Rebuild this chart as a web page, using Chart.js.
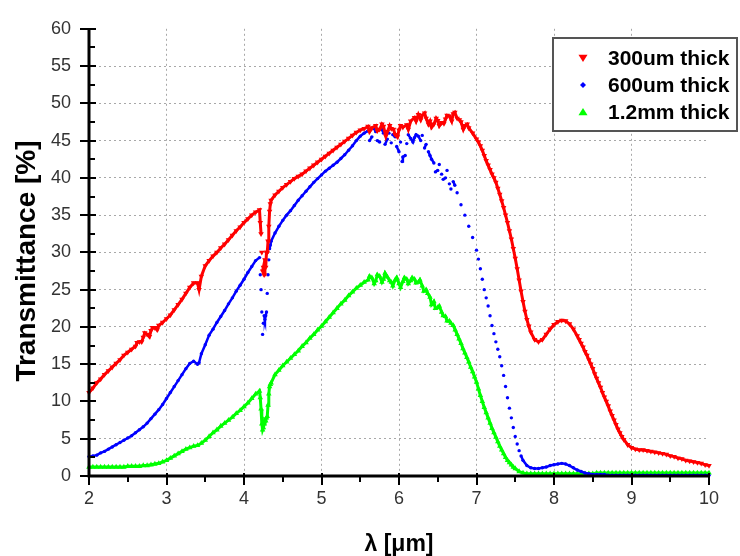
<!DOCTYPE html>
<html><head><meta charset="utf-8">
<script src="https://cdn.jsdelivr.net/npm/chart.js@4.4.1/dist/chart.umd.min.js"></script>
<style>html,body{margin:0;padding:0;background:#fff}#wrap{width:740px;height:556px;position:relative}</style>
</head><body><div id="wrap"><canvas id="c"></canvas></div>
<script>
const seriesLabels = ['300um thick', '600um thick', '1.2mm thick'];
const seriesColors = ['#ff0000', '#0000ff', '#00ff00'];
const xTitle = 'λ [μm]';
const yTitle = 'Transmittance [%]';
const xTicks = [2, 3, 4, 5, 6, 7, 8, 9, 10];
const xMinorTicks = [2.5, 3.5, 4.5, 5.5, 6.5, 7.5, 8.5, 9.5];
const yTicks = [0, 5, 10, 15, 20, 25, 30, 35, 40, 45, 50, 55, 60];
const yMinorTicks = [2.5, 7.5, 12.5, 17.5, 22.5, 27.5, 32.5, 37.5, 42.5, 47.5, 52.5, 57.5];

// [wavelength (um), transmittance (%)]
const red300 = [
[2.00,11.2],[2.05,11.8],[2.10,12.5],[2.15,13.0],[2.20,13.6],[2.25,14.1],[2.30,14.6],[2.35,15.1],[2.40,15.6],[2.45,16.2],
[2.50,16.6],[2.55,17.0],[2.60,17.4],[2.62,17.9],[2.65,18.0],[2.68,18.0],[2.70,18.6],[2.72,19.2],[2.75,19.0],[2.78,18.7],
[2.80,19.5],[2.82,19.9],[2.85,19.9],[2.88,19.6],[2.90,20.2],[2.95,20.6],[3.00,21.1],[3.05,21.6],[3.10,22.3],[3.15,23.0],
[3.20,23.7],[3.25,24.5],[3.30,25.3],[3.35,25.9],[3.40,25.9],[3.42,25.0],[3.45,26.8],[3.50,28.2],[3.55,28.9],[3.60,29.5],
[3.65,30.0],[3.70,30.6],[3.75,31.1],[3.80,31.7],[3.85,32.3],[3.90,32.9],[3.95,33.4],[4.00,34.0],[4.05,34.5],[4.10,35.0],
[4.15,35.4],[4.20,35.7],[4.21,34.0],[4.22,32.5],[4.23,30.0],[4.24,27.5],[4.25,28.0],[4.26,27.0],[4.27,29.0],[4.28,28.0],
[4.29,30.0],[4.30,30.0],[4.31,31.5],[4.32,33.5],[4.33,35.5],[4.34,36.5],[4.35,37.0],[4.40,37.7],[4.45,38.2],[4.50,38.7],
[4.55,39.1],[4.60,39.5],[4.65,39.9],[4.70,40.2],[4.75,40.5],[4.80,40.9],[4.85,41.3],[4.90,41.7],[4.95,42.1],[5.00,42.5],
[5.05,42.9],[5.10,43.3],[5.15,43.7],[5.20,44.1],[5.25,44.5],[5.30,44.9],[5.35,45.3],[5.40,45.7],[5.45,46.1],[5.50,46.4],
[5.55,46.6],[5.60,46.9],[5.62,46.2],[5.65,46.7],[5.70,47.0],[5.72,46.3],[5.75,46.5],[5.78,47.2],[5.80,46.9],[5.83,45.6],
[5.85,46.2],[5.88,47.0],[5.90,46.6],[5.93,46.5],[5.95,45.8],[5.98,45.5],[6.00,46.4],[6.02,47.0],[6.05,46.8],[6.10,47.1],
[6.12,46.5],[6.15,47.6],[6.20,48.1],[6.22,47.6],[6.25,48.5],[6.28,47.8],[6.30,48.4],[6.33,48.7],[6.35,48.0],[6.38,47.2],
[6.40,47.6],[6.42,46.8],[6.45,47.2],[6.48,48.0],[6.50,47.7],[6.52,47.0],[6.55,47.4],[6.58,47.3],[6.60,47.9],[6.62,48.4],
[6.65,48.3],[6.68,47.6],[6.70,48.6],[6.72,48.8],[6.75,48.0],[6.78,47.8],[6.80,47.5],[6.83,46.5],[6.85,47.0],[6.88,47.2],
[6.90,46.7],[6.95,46.0],[7.00,45.2],[7.025,44.8],[7.05,44.3],[7.075,43.7],[7.10,43.0],[7.125,42.3],[7.15,41.7],[7.175,41.1],
[7.20,40.5],[7.225,40.0],[7.25,39.4],[7.275,38.6],[7.30,37.8],[7.325,36.9],[7.35,36.0],[7.375,35.0],[7.40,34.0],[7.425,32.9],
[7.45,31.8],[7.475,30.5],[7.50,29.2],[7.525,27.8],[7.55,26.3],[7.575,24.8],[7.60,23.4],[7.625,22.1],[7.65,21.0],[7.675,20.1],
[7.70,19.3],[7.75,18.3],[7.80,18.0],[7.85,18.3],[7.90,19.0],[7.95,19.7],[8.00,20.3],[8.05,20.7],[8.10,20.9],[8.15,20.8],
[8.20,20.4],[8.25,19.7],[8.30,18.8],[8.325,18.3],[8.35,17.8],[8.375,17.3],[8.40,16.7],[8.425,16.2],[8.45,15.6],[8.475,15.0],
[8.50,14.4],[8.525,13.7],[8.55,13.1],[8.575,12.5],[8.60,11.9],[8.625,11.2],[8.65,10.6],[8.675,10.0],[8.70,9.4],[8.725,8.7],
[8.75,8.1],[8.775,7.5],[8.80,6.9],[8.825,6.3],[8.85,5.8],[8.875,5.3],[8.90,4.9],[8.95,4.2],[9.00,3.8],[9.05,3.6],
[9.10,3.5],[9.15,3.5],[9.20,3.4],[9.25,3.3],[9.30,3.2],[9.35,3.1],[9.40,3.0],[9.45,2.9],[9.50,2.7],[9.55,2.6],
[9.60,2.4],[9.65,2.3],[9.70,2.1],[9.75,2.0],[9.80,1.9],[9.85,1.8],[9.90,1.7],[9.95,1.5],[10.00,1.4]
];

const blue600 = [
[2.00,2.6],[2.05,2.7],[2.10,2.8],[2.15,3.1],[2.20,3.3],[2.25,3.6],[2.30,3.9],[2.35,4.2],[2.40,4.5],[2.45,4.8],
[2.50,5.1],[2.55,5.4],[2.60,5.8],[2.65,6.2],[2.70,6.6],[2.75,7.1],[2.80,7.7],[2.85,8.3],[2.90,8.9],[2.95,9.6],
[3.00,10.4],[3.05,11.2],[3.10,12.0],[3.15,12.8],[3.20,13.6],[3.25,14.4],[3.30,15.1],[3.35,15.4],[3.40,15.0],[3.42,15.2],
[3.45,16.4],[3.50,17.6],[3.55,18.9],[3.60,19.7],[3.65,20.6],[3.70,21.4],[3.75,22.2],[3.80,23.1],[3.85,23.9],[3.90,24.8],
[3.95,25.6],[4.00,26.4],[4.05,27.3],[4.10,28.1],[4.15,28.9],[4.20,29.3],[4.21,27.0],[4.22,25.0],[4.23,22.0],[4.24,19.0],
[4.25,20.5],[4.26,21.5],[4.27,21.0],[4.28,21.5],[4.29,22.0],[4.30,24.5],[4.31,27.0],[4.32,29.0],[4.33,30.5],[4.34,31.0],
[4.35,31.5],[4.40,32.6],[4.45,33.5],[4.50,34.3],[4.55,35.0],[4.60,35.6],[4.65,36.3],[4.70,37.0],[4.75,37.6],[4.80,38.2],
[4.85,38.8],[4.90,39.4],[4.95,39.9],[5.00,40.4],[5.05,40.9],[5.10,41.3],[5.15,41.7],[5.20,42.1],[5.25,42.6],[5.30,43.1],
[5.35,43.7],[5.40,44.3],[5.45,45.0],[5.50,45.6],[5.55,46.0],[5.60,46.3],[5.62,45.0],[5.65,45.5],[5.68,46.6],[5.70,46.2],
[5.72,45.0],[5.75,44.8],[5.78,46.5],[5.80,46.0],[5.82,44.5],[5.85,45.2],[5.87,46.0],[5.90,44.7],[5.92,45.8],[5.95,45.5],
[5.97,44.2],[6.00,43.5],[6.02,44.8],[6.04,42.2],[6.05,42.8],[6.08,43.0],[6.10,44.6],[6.12,45.8],[6.15,45.3],[6.18,44.8],
[6.20,45.4],[6.22,45.8],[6.25,45.6],[6.28,45.0],[6.30,45.7],[6.33,44.0],[6.35,44.5],[6.38,43.5],[6.40,43.0],[6.42,42.5],
[6.45,42.0],[6.47,40.8],[6.50,41.0],[6.52,41.8],[6.55,40.5],[6.57,39.8],[6.60,40.0],[6.62,41.0],[6.65,39.2],[6.67,38.5],
[6.70,39.5],[6.72,39.0],[6.75,38.0],[6.80,36.4],[6.85,35.0],[6.90,33.5],[6.95,32.0],[7.00,30.3],[7.025,29.1],[7.05,27.8],
[7.075,26.4],[7.10,25.0],[7.125,23.9],[7.15,22.8],[7.175,21.5],[7.20,20.2],[7.225,19.1],[7.25,18.0],[7.275,17.0],[7.30,16.0],
[7.325,14.8],[7.35,13.5],[7.375,12.0],[7.40,10.5],[7.425,9.1],[7.45,7.8],[7.475,6.5],[7.50,5.3],[7.525,4.3],[7.55,3.4],
[7.575,2.7],[7.60,2.1],[7.65,1.4],[7.70,1.1],[7.75,1.0],[7.80,1.0],[7.85,1.1],[7.90,1.2],[7.95,1.4],[8.00,1.5],
[8.05,1.6],[8.10,1.7],[8.15,1.6],[8.20,1.4],[8.25,1.1],[8.30,0.8],[8.35,0.6],[8.40,0.4],[8.45,0.3],[8.50,0.2],
[8.55,0.2],[8.60,0.2],[8.65,0.2],[8.70,0.1],[8.75,0.1],[8.80,0.1],[8.85,0.1],[8.90,0.1],[8.95,0.1],[9.00,0.1],
[9.05,0.1],[9.10,0.1],[9.15,0.1],[9.20,0.1],[9.25,0.1],[9.30,0.1],[9.35,0.1],[9.40,0.1],[9.45,0.1],[9.50,0.1],
[9.55,0.1],[9.60,0.1],[9.65,0.1],[9.70,0.1],[9.75,0.1],[9.80,0.1],[9.85,0.1],[9.90,0.1],[9.95,0.1],[10.00,0.1]
];

const green1200 = [
[2.00,1.2],[2.05,1.2],[2.10,1.2],[2.15,1.2],[2.20,1.2],[2.25,1.2],[2.30,1.2],[2.35,1.2],[2.40,1.2],[2.45,1.2],
[2.50,1.3],[2.55,1.3],[2.60,1.3],[2.65,1.3],[2.70,1.4],[2.75,1.4],[2.80,1.5],[2.85,1.6],[2.90,1.7],[2.95,1.9],
[3.00,2.1],[3.05,2.4],[3.10,2.7],[3.15,3.0],[3.20,3.3],[3.25,3.6],[3.30,3.8],[3.35,4.0],[3.40,4.1],[3.45,4.4],
[3.50,4.8],[3.55,5.3],[3.60,5.8],[3.65,6.2],[3.70,6.7],[3.75,7.1],[3.80,7.5],[3.85,7.9],[3.90,8.4],[3.95,8.8],
[4.00,9.3],[4.05,9.8],[4.10,10.4],[4.15,11.0],[4.20,11.4],[4.21,10.5],[4.22,9.0],[4.23,7.0],[4.24,6.2],[4.25,6.5],
[4.26,7.0],[4.27,7.5],[4.28,7.4],[4.29,7.8],[4.30,8.0],[4.31,9.5],[4.32,11.0],[4.33,12.0],[4.34,12.3],[4.35,12.5],
[4.40,13.6],[4.45,14.2],[4.50,14.8],[4.55,15.3],[4.60,15.8],[4.65,16.3],[4.70,16.8],[4.75,17.4],[4.80,17.9],[4.85,18.5],
[4.90,19.0],[4.95,19.6],[5.00,20.1],[5.05,20.7],[5.10,21.3],[5.15,21.9],[5.20,22.5],[5.25,23.1],[5.30,23.6],[5.35,24.2],
[5.40,24.7],[5.45,25.2],[5.50,25.6],[5.55,26.0],[5.60,26.3],[5.62,26.8],[5.65,26.6],[5.68,25.8],[5.70,26.2],[5.72,27.0],
[5.75,26.8],[5.78,26.0],[5.80,26.4],[5.82,27.2],[5.85,26.7],[5.88,26.2],[5.90,26.0],[5.92,25.5],[5.95,26.3],[5.97,26.6],
[6.00,25.8],[6.02,25.3],[6.05,26.1],[6.07,26.6],[6.10,26.4],[6.12,25.8],[6.15,26.2],[6.17,26.6],[6.20,26.4],[6.22,25.9],
[6.25,26.0],[6.27,26.3],[6.30,25.5],[6.32,24.8],[6.35,25.0],[6.37,24.5],[6.40,24.0],[6.42,23.0],[6.45,23.4],[6.47,22.5],
[6.50,22.6],[6.52,22.8],[6.55,22.0],[6.57,21.5],[6.60,21.4],[6.62,20.8],[6.65,20.8],[6.67,20.5],[6.70,20.2],[6.725,19.6],
[6.75,19.0],[6.775,18.4],[6.80,17.8],[6.825,17.1],[6.85,16.5],[6.875,15.9],[6.90,15.3],[6.925,14.6],[6.95,14.0],[6.975,13.3],
[7.00,12.6],[7.025,11.7],[7.05,10.8],[7.075,10.0],[7.10,9.2],[7.125,8.5],[7.15,7.8],[7.175,7.1],[7.20,6.4],[7.225,5.8],
[7.25,5.2],[7.275,4.6],[7.30,4.0],[7.325,3.5],[7.35,3.0],[7.375,2.5],[7.40,2.1],[7.425,1.8],[7.45,1.5],[7.475,1.2],
[7.50,1.0],[7.55,0.6],[7.60,0.4],[7.65,0.3],[7.70,0.3],[7.75,0.3],[7.80,0.3],[7.85,0.3],[7.90,0.3],[7.95,0.3],
[8.00,0.3],[8.05,0.3],[8.10,0.3],[8.15,0.3],[8.20,0.3],[8.25,0.3],[8.30,0.3],[8.35,0.3],[8.40,0.3],[8.45,0.3],
[8.50,0.3],[8.55,0.4],[8.60,0.4],[8.65,0.4],[8.70,0.4],[8.75,0.4],[8.80,0.4],[8.85,0.4],[8.90,0.4],[8.95,0.4],
[9.00,0.4],[9.05,0.4],[9.10,0.4],[9.15,0.4],[9.20,0.4],[9.25,0.4],[9.30,0.4],[9.35,0.4],[9.40,0.4],[9.45,0.4],
[9.50,0.4],[9.55,0.4],[9.60,0.4],[9.65,0.4],[9.70,0.4],[9.75,0.4],[9.80,0.4],[9.85,0.4],[9.90,0.4],[9.95,0.4],[10.00,0.4]
];

const toXY = arr => arr.map(p => ({x: p[0], y: p[1]}));

// hide the joining stroke where neighbouring samples jump (scattered regions)
function segColor(color, mode) {
  return c => {
    const dx = Math.abs(c.p1.x - c.p0.x), dy = Math.abs(c.p1.y - c.p0.y);
    let hide;
    if (mode === 'dots') hide = c.p0.parsed.x > 4.18 && dy > 5 && dy > 2.6 * dx;
    else hide = dy > 17;
    return hide ? 'rgba(0,0,0,0)' : color;
  };
}

function drawMarker(ctx, style, x, y, r, color) {
  ctx.fillStyle = color;
  ctx.beginPath();
  if (style === 'down') {
    ctx.moveTo(x - r, y - r * 0.7); ctx.lineTo(x + r, y - r * 0.7); ctx.lineTo(x, y + r * 0.9);
  } else if (style === 'up') {
    ctx.moveTo(x - r, y + r * 0.7); ctx.lineTo(x + r, y + r * 0.7); ctx.lineTo(x, y - r * 0.9);
  } else {
    ctx.moveTo(x, y - r); ctx.lineTo(x + r, y); ctx.lineTo(x, y + r); ctx.lineTo(x - r, y);
  }
  ctx.closePath();
  ctx.fill();
}

const axesPlugin = {
  id: 'axesDecor',
  afterDatasetsDraw(chart) {
    const {ctx, chartArea: a, scales: {x, y}} = chart;
    ctx.save();
    ctx.strokeStyle = '#000';
    ctx.lineWidth = 3;
    ctx.beginPath();
    ctx.moveTo(a.left, a.top); ctx.lineTo(a.left, a.bottom + 1.5);
    ctx.moveTo(a.left - 1.5, a.bottom); ctx.lineTo(a.right + 1, a.bottom);
    ctx.stroke();
    ctx.lineWidth = 2;
    ctx.beginPath();
    yTicks.forEach(v => { const py = Math.round(y.getPixelForValue(v)); ctx.moveTo(a.left - 9, py); ctx.lineTo(a.left + 7, py); });
    yMinorTicks.forEach(v => { const py = Math.round(y.getPixelForValue(v)); ctx.moveTo(a.left, py); ctx.lineTo(a.left + 6, py); });
    xTicks.forEach(v => { const px = Math.round(x.getPixelForValue(v)); ctx.moveTo(px, a.bottom - 3); ctx.lineTo(px, a.bottom + 9); });
    xMinorTicks.forEach(v => { const px = Math.round(x.getPixelForValue(v)); ctx.moveTo(px, a.bottom); ctx.lineTo(px, a.bottom + 6); });
    ctx.stroke();
    // y axis title, centred where the reference places it
    ctx.fillStyle = '#000';
    ctx.font = 'bold 28px "Liberation Sans", Arial, sans-serif';
    ctx.textAlign = 'center';
    ctx.textBaseline = 'middle';
    ctx.translate(27, 261);
    ctx.rotate(-Math.PI / 2);
    ctx.fillText(yTitle, 0, 0);
    ctx.restore();
  }
};

const legendPlugin = {
  id: 'boxLegend',
  afterDraw(chart) {
    const ctx = chart.ctx;
    const bx = 553, by = 38, bw = 184, bh = 93;
    ctx.save();
    ctx.fillStyle = '#fff';
    ctx.fillRect(bx, by, bw, bh);
    ctx.strokeStyle = '#555';
    ctx.lineWidth = 2;
    ctx.strokeRect(bx, by, bw, bh);
    const styles = ['down', 'diamond', 'up'];
    const rows = [58, 85, 112];
    chart.data.datasets.forEach((ds, i) => {
      drawMarker(ctx, styles[i], 583, rows[i], styles[i] === 'diamond' ? 3 : 4.5, ds.backgroundColor);
      ctx.fillStyle = '#000';
      ctx.font = 'bold 21px "Liberation Sans", Arial, sans-serif';
      ctx.textBaseline = 'middle';
      ctx.textAlign = 'left';
      ctx.fillText(ds.label, 608, rows[i] + 1);
    });
    ctx.restore();
  }
};

const gridColor = ctx => (ctx.tick && (ctx.tick.value === 0 || ctx.tick.value === 60 || ctx.tick.value === 2 || ctx.tick.value === 10)) ? 'rgba(0,0,0,0)' : '#a8a8a8';

new Chart(document.getElementById('c'), {
  type: 'scatter',
  data: {
    datasets: [
      {label: seriesLabels[0], data: toXY(red300), backgroundColor: seriesColors[0], borderColor: seriesColors[0],
       pointStyle: 'triangle', rotation: 180, pointRadius: 3.2, pointBorderWidth: 0, showLine: true, borderWidth: 3,
       segment: {borderColor: segColor(seriesColors[0], 'band')}, clip: false},
      {label: seriesLabels[1], data: toXY(blue600), backgroundColor: seriesColors[1], borderColor: seriesColors[1],
       pointStyle: 'circle', pointRadius: 1.7, pointBorderWidth: 0, showLine: true, borderWidth: 2.5,
       segment: {borderColor: segColor(seriesColors[1], 'dots')}, clip: false},
      {label: seriesLabels[2], data: toXY(green1200), backgroundColor: seriesColors[2], borderColor: seriesColors[2],
       pointStyle: 'triangle', pointRadius: 3.2, pointBorderWidth: 0, showLine: true, borderWidth: 3,
       segment: {borderColor: segColor(seriesColors[2], 'band')}, clip: false}
    ]
  },
  options: {
    responsive: true,
    maintainAspectRatio: false,
    animation: false,
    layout: {padding: {top: 20, right: 31, left: 0, bottom: 0}},
    plugins: {legend: {display: false}, tooltip: {enabled: false}},
    scales: {
      x: {
        type: 'linear', min: 2, max: 10,
        afterBuildTicks: s => { s.ticks = xTicks.map(v => ({value: v})); },
        afterFit: s => { s.height = 80; },
        grid: {color: gridColor, lineWidth: 1, drawTicks: false},
        border: {display: false, dash: [2, 3]},
        ticks: {padding: 12, color: '#333', font: {family: '"Liberation Sans", Arial, sans-serif', size: 18}, maxRotation: 0},
        title: {display: true, text: xTitle, color: '#000', padding: {top: 0, bottom: 0},
                font: {family: '"Liberation Sans", Arial, sans-serif', size: 23, weight: 'bold', lineHeight: 1}}
      },
      y: {
        type: 'linear', min: 0, max: 60,
        afterBuildTicks: s => { s.ticks = yTicks.map(v => ({value: v})); },
        afterFit: s => { s.width = 89; },
        grid: {color: gridColor, lineWidth: 1, drawTicks: false},
        border: {display: false, dash: [2, 3]},
        ticks: {padding: 18, color: '#333', font: {family: '"Liberation Sans", Arial, sans-serif', size: 18}},
        title: {display: false, text: yTitle}
      }
    }
  },
  plugins: [axesPlugin, legendPlugin]
});
</script>
</body></html>
